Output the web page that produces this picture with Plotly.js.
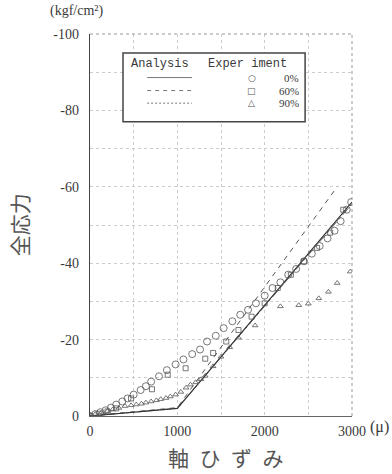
<!DOCTYPE html>
<html>
<head>
<meta charset="utf-8">
<script src="https://cdn.plot.ly/plotly-3.0.1.min.js"></script>
<style>
  html, body { margin: 0; padding: 0; background: #fff; }
  #chart { width: 392px; height: 474px; }
</style>
</head>
<body>
<div id="chart"></div>
<script>
// Axial strain (μ) vs total stress (kgf/cm²)

// Analysis curves
const anaX0 = [0, 1000, 3000];
const anaY0 = [0, -2, -56];
const anaX60 = [0, 1000, 2830];
const anaY60 = [0, -2.2, -60];
const anaX90 = [0, 1000, 3000];
const anaY90 = [0, -2, -55.5];

// Experiment 0%
const expX0 = [0, 60, 120, 180, 240, 300, 370, 430, 500, 580, 640, 700, 790, 880, 980, 1070, 1170, 1260, 1340, 1440, 1530, 1630, 1720, 1810, 1900, 2000, 2090, 2180, 2270, 2360, 2450, 2540, 2630, 2720, 2800, 2870, 2940, 2990];
const expY0 = [0, -0.5, -1.0, -1.5, -2.2, -3.0, -3.8, -4.6, -5.6, -6.8, -7.8, -9.0, -10.4, -12.0, -13.5, -14.8, -16.2, -17.4, -19.5, -21.0, -23.0, -24.8, -26.5, -27.8, -29.5, -31.5, -33.5, -35.0, -37.0, -38.5, -40.5, -42.5, -44.5, -46.5, -48.5, -51.0, -54.0, -56.0];

// Experiment 60%
const expX60 = [0, 100, 200, 300, 470, 710, 890, 1095, 1320, 1410, 1560, 1700, 1850, 2000, 2150, 2300, 2450, 2600, 2750, 2900];
const expY60 = [0, -0.6, -1.2, -2.0, -4.6, -7.0, -10.8, -12.5, -15.0, -16.5, -19.5, -22.5, -26.0, -29.5, -33.5, -37.0, -40.5, -44.0, -48.0, -54.0];

// Experiment 90%
const expX90 = [0, 60, 130, 200, 260, 330, 400, 470, 530, 590, 640, 700, 760, 810, 870, 920, 980, 1040, 1100, 1150, 1210, 1270, 1320, 1410, 1500, 1600, 1700, 1890, 2180, 2390, 2500, 2620, 2730, 2830, 2980];
const expY90 = [0, -0.5, -0.9, -1.3, -1.7, -2.1, -2.6, -2.8, -3.0, -3.2, -3.5, -3.8, -4.1, -4.4, -4.7, -5.1, -5.6, -6.3, -7.4, -8.2, -8.8, -9.6, -10.5, -13.0, -15.5, -18.0, -20.5, -23.7, -28.7, -29.0, -29.4, -30.8, -32.5, -34.8, -37.8];

// Tick labels
const xTickVals = [0, 1000, 2000, 3000];
const xTickText = ['0', '1000', '2000', '3000'];
const yTickVals = [0, -20, -40, -60, -80, -100];
const yTickText = ['0', '-20', '-40', '-60', '-80', '-100'];

// Legend rows
const legendPct = ['0%', '60%', '90%'];
const legendSym = ['○', '□', '△'];

const ink = '#3a3a3a';
const serif = "'Liberation Serif', 'Times New Roman', serif";
const mono = "'Liberation Mono', 'Courier New', monospace";
const cjk = "'Noto Sans CJK JP', sans-serif";

const traces = [
  { x: anaX90, y: anaY90, mode: 'lines', line: { color: '#777', width: 1, dash: 'dashdot' } },
  { x: anaX60, y: anaY60, mode: 'lines', line: { color: '#555', width: 1, dash: '5px,5px' } },
  { x: anaX0, y: anaY0, mode: 'lines', line: { color: '#333', width: 1.2 } },
  { x: expX90, y: expY90, mode: 'markers',
    marker: { symbol: 'triangle-up-open', size: 5, color: '#555', line: { width: 0.8 } } },
  { x: expX60, y: expY60, mode: 'markers',
    marker: { symbol: 'square-open', size: 5, color: '#555', line: { width: 0.8 } } },
  { x: expX0, y: expY0, mode: 'markers',
    marker: { symbol: 'circle-open', size: 7, color: '#555', line: { width: 0.8 } } }
];

// inset legend box, in paper coordinates
const L = { x0: 0.126, x1: 0.821, y0: 0.770, y1: 0.950 };
const rowY = [0.886, 0.852, 0.819];
const rowDash = ['solid', '4px,4px', '2px,2px'];

const shapes = [
  // top and right frame edges, dotted
  { type: 'line', xref: 'paper', yref: 'paper', x0: 0, x1: 1, y0: 1, y1: 1,
    line: { color: '#999', width: 1, dash: 'dot' } },
  { type: 'line', xref: 'paper', yref: 'paper', x0: 1, x1: 1, y0: 0, y1: 1,
    line: { color: '#999', width: 1, dash: 'dot' } },
  { type: 'rect', xref: 'paper', yref: 'paper', x0: L.x0, x1: L.x1, y0: L.y0, y1: L.y1,
    fillcolor: '#fff', line: { color: '#444', width: 1.5 } }
];
rowY.forEach((y, i) => {
  shapes.push({ type: 'line', xref: 'paper', yref: 'paper', x0: 0.218, x1: 0.389, y0: y, y1: y,
    line: { color: '#777', width: 1, dash: rowDash[i] } });
});

const annotations = [
  { text: '(kgf/cm²)', xref: 'paper', yref: 'paper', x: -0.05, y: 1.06, showarrow: false,
    xanchor: 'center', yanchor: 'middle', font: { family: serif, size: 14, color: ink } },
  { text: '全応力', xref: 'paper', yref: 'paper', x: -0.27, y: 0.5, showarrow: false,
    textangle: -90, xanchor: 'center', yanchor: 'middle',
    font: { family: cjk, size: 21, color: '#555' } },
  { text: '軸\u2002ひ\u2002ず\u2002み', xref: 'paper', yref: 'paper', x: 0.519, y: -0.107,
    showarrow: false, xanchor: 'center', yanchor: 'middle',
    font: { family: cjk, size: 21, color: '#555' } },
  { text: '(μ)', xref: 'paper', yref: 'paper', x: 1.06, y: -0.03, showarrow: false,
    xanchor: 'left', yanchor: 'middle', font: { family: serif, size: 16, color: ink } },
  { text: 'Analysis', xref: 'paper', yref: 'paper', x: 0.267, y: 0.922, showarrow: false,
    xanchor: 'center', yanchor: 'middle', font: { family: mono, size: 12, color: ink } },
  { text: 'Exper iment', xref: 'paper', yref: 'paper', x: 0.60, y: 0.922, showarrow: false,
    xanchor: 'center', yanchor: 'middle', font: { family: mono, size: 12, color: ink } }
];
rowY.forEach((y, i) => {
  annotations.push({ text: legendSym[i], xref: 'paper', yref: 'paper', x: 0.618, y: y,
    showarrow: false, xanchor: 'center', yanchor: 'middle',
    font: { family: 'DejaVu Sans, sans-serif', size: 9, color: '#555' } });
  annotations.push({ text: legendPct[i], xref: 'paper', yref: 'paper', x: 0.807, y: y,
    showarrow: false, xanchor: 'right', yanchor: 'middle',
    font: { family: serif, size: 11, color: ink } });
});

const layout = {
  width: 392, height: 474,
  margin: { l: 90, r: 40, t: 34, b: 58 },
  paper_bgcolor: '#fff', plot_bgcolor: '#fff',
  showlegend: false,
  xaxis: {
    range: [0, 3000], tickvals: xTickVals, ticktext: xTickText,
    showgrid: true, gridcolor: '#ccc', griddash: 'dot', gridwidth: 1,
    minor: { dtick: 500, tick0: 0, showgrid: true, gridcolor: '#ccc', griddash: 'dot' },
    showline: true, linecolor: '#666', linewidth: 1, zeroline: false,
    ticks: '', ticklabelstandoff: 2,
    tickfont: { family: serif, size: 14, color: ink }
  },
  yaxis: {
    range: [0, -100], tickvals: yTickVals, ticktext: yTickText,
    showgrid: true, gridcolor: '#ccc', griddash: 'dot', gridwidth: 1,
    minor: { dtick: 10, tick0: 0, showgrid: true, gridcolor: '#ccc', griddash: 'dot' },
    showline: true, linecolor: '#444', linewidth: 1.2, zeroline: false,
    ticks: '', ticklabelstandoff: 7,
    tickfont: { family: serif, size: 14, color: ink }
  },
  shapes: shapes,
  annotations: annotations
};

Plotly.newPlot('chart', traces, layout, { displayModeBar: false, staticPlot: true });
</script>
</body>
</html>
